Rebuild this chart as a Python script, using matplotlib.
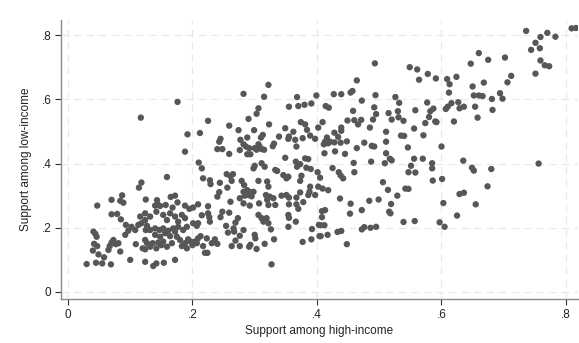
import matplotlib
matplotlib.use("Agg")
import matplotlib.pyplot as plt

# (support among high-income, support among low-income)
points = [
    # upper left / top
    (0.176,0.592),
    (0.282,0.617),(0.322,0.645),(0.315,0.608),(0.306,0.572),(0.303,0.555),(0.355,0.577),(0.368,0.607),(0.370,0.579),(0.380,0.583),(0.391,0.587),(0.399,0.612),
    (0.414,0.579),(0.419,0.574),(0.427,0.616),(0.439,0.616),(0.454,0.621),(0.457,0.626),(0.464,0.659),(0.472,0.596),(0.458,0.564),(0.493,0.712),(0.494,0.613),(0.492,0.575),(0.495,0.554),(0.515,0.557),(0.526,0.607),(0.532,0.589),(0.530,0.563),(0.549,0.700),(0.561,0.693),(0.564,0.661),(0.578,0.679),(0.591,0.665),(0.609,0.663),(0.613,0.647),(0.612,0.621),(0.577,0.590),(0.558,0.566),(0.582,0.563),(0.587,0.571),(0.607,0.570),(0.610,0.577),
    (0.736,0.813),(0.809,0.821),(0.816,0.822),(0.759,0.794),(0.770,0.807),(0.783,0.795),(0.751,0.776),(0.744,0.754),(0.758,0.759),(0.660,0.744),(0.647,0.711),(0.675,0.723),(0.702,0.730),(0.759,0.721),(0.766,0.706),(0.773,0.703),(0.751,0.680),(0.624,0.670),(0.650,0.640),(0.668,0.652),(0.712,0.673),(0.706,0.653),(0.652,0.612),(0.660,0.612),(0.666,0.610),(0.694,0.619),(0.698,0.602),(0.681,0.601),(0.616,0.588),(0.627,0.591),(0.629,0.572),(0.636,0.577),(0.654,0.577),(0.682,0.567),
    (0.620,0.531),(0.658,0.543),(0.635,0.409),(0.649,0.387),(0.652,0.378),(0.680,0.383),(0.756,0.400),(0.674,0.329),(0.629,0.305),(0.636,0.309),(0.655,0.273),
    (0.625,0.238),
    # middle right
    (0.409,0.529),(0.449,0.534),(0.460,0.535),(0.471,0.536),(0.466,0.522),(0.490,0.537),(0.520,0.537),(0.531,0.544),(0.539,0.533),(0.580,0.545),(0.590,0.531),(0.592,0.529),(0.574,0.526),(0.556,0.509),(0.485,0.512),(0.439,0.512),(0.439,0.502),(0.428,0.496),(0.434,0.483),(0.416,0.481),(0.413,0.468),(0.418,0.463),(0.411,0.460),(0.421,0.468),(0.428,0.466),(0.438,0.465),(0.448,0.469),(0.511,0.499),(0.511,0.468),(0.535,0.487),(0.540,0.486),(0.571,0.488),(0.476,0.465),(0.488,0.455),(0.492,0.453),(0.464,0.448),(0.546,0.450),(0.600,0.453),(0.412,0.432),(0.429,0.438),(0.445,0.430),(0.511,0.432),(0.517,0.415),(0.520,0.410),(0.487,0.406),(0.459,0.402),(0.509,0.401),(0.556,0.415),(0.570,0.415),(0.585,0.401),(0.585,0.385),(0.551,0.393),(0.547,0.373),(0.558,0.372),(0.425,0.386),(0.460,0.373),(0.435,0.373),(0.438,0.363),(0.442,0.354),(0.586,0.347),(0.601,0.352),(0.506,0.342),(0.409,0.322),(0.418,0.317),(0.514,0.318),(0.542,0.322),(0.547,0.321),(0.529,0.300),(0.437,0.291),(0.454,0.275),(0.484,0.284),(0.499,0.288),(0.519,0.274),(0.603,0.277),
    (0.408,0.252),(0.413,0.255),(0.408,0.233),(0.406,0.208),(0.412,0.208),(0.406,0.174),(0.417,0.178),(0.433,0.187),(0.439,0.190),(0.448,0.149),(0.453,0.244),(0.472,0.255),(0.516,0.250),(0.518,0.245),(0.472,0.195),(0.476,0.202),(0.486,0.200),(0.495,0.203),(0.539,0.218),(0.557,0.221),(0.597,0.217),(0.605,0.203),
    # lower left
    (0.070,0.242),(0.079,0.243),(0.085,0.226),(0.093,0.209),(0.041,0.188),(0.044,0.181),(0.046,0.172),(0.042,0.150),(0.047,0.143),(0.040,0.129),(0.049,0.117),(0.058,0.108),(0.030,0.087),(0.045,0.091),(0.055,0.089),(0.069,0.086),(0.065,0.131),(0.067,0.143),(0.070,0.154),(0.073,0.162),(0.077,0.149),(0.081,0.152),(0.084,0.126),(0.092,0.178),(0.097,0.191),(0.102,0.203),(0.100,0.100),(0.109,0.149),(0.108,0.193),(0.113,0.209),(0.118,0.214),(0.124,0.224),(0.127,0.206),(0.125,0.193),(0.124,0.162),(0.127,0.152),(0.120,0.136),(0.124,0.133),(0.124,0.094),(0.137,0.081),(0.142,0.089),(0.154,0.091),(0.172,0.100),(0.132,0.141),(0.136,0.152),(0.142,0.136),(0.145,0.154),(0.150,0.146),(0.140,0.178),(0.148,0.172),(0.156,0.183),(0.164,0.174),(0.172,0.188),(0.132,0.193),(0.140,0.198),(0.147,0.193),(0.153,0.198),(0.161,0.191),(0.169,0.198),(0.177,0.203),(0.185,0.193),(0.191,0.203),(0.116,0.235),(0.124,0.245),(0.132,0.235),(0.142,0.250),(0.153,0.240),(0.159,0.224),(0.164,0.245),(0.172,0.235),(0.177,0.219),(0.183,0.240),(0.188,0.230),(0.175,0.172),(0.180,0.162),(0.188,0.152),(0.193,0.164),(0.183,0.143),(0.191,0.136),(0.153,0.157),(0.159,0.141),(0.167,0.152),
    (0.117,0.543),(0.192,0.491),(0.188,0.437),(0.159,0.358),(0.118,0.341),(0.114,0.325),(0.087,0.301),(0.084,0.284),(0.089,0.278),(0.070,0.287),(0.047,0.269),(0.125,0.288),(0.143,0.286),(0.145,0.271),(0.140,0.269),(0.148,0.268),(0.165,0.296),(0.172,0.300),(0.176,0.279),(0.157,0.271),(0.168,0.263),(0.188,0.269),(0.195,0.259),
    (0.215,0.239),(0.225,0.245),(0.227,0.233),(0.228,0.219),(0.245,0.233),(0.248,0.250),(0.259,0.247),(0.273,0.230),(0.269,0.216),(0.254,0.206),(0.266,0.198),(0.267,0.188),(0.257,0.185),(0.282,0.193),(0.276,0.175),(0.269,0.160),(0.263,0.143),(0.276,0.143),(0.291,0.141),(0.293,0.147),(0.300,0.178),(0.301,0.167),(0.303,0.134),(0.316,0.150),(0.331,0.164),(0.306,0.240),(0.311,0.230),(0.314,0.219),(0.319,0.230),(0.322,0.214),(0.326,0.195),(0.327,0.086),(0.354,0.240),(0.355,0.231),(0.366,0.219),(0.354,0.203),(0.377,0.156),(0.392,0.196),(0.391,0.164),(0.403,0.209),(0.404,0.174),(0.197,0.157),(0.200,0.146),(0.204,0.157),(0.209,0.167),(0.213,0.174),(0.207,0.152),(0.217,0.143),(0.220,0.122),(0.224,0.122),(0.223,0.167),(0.231,0.152),(0.236,0.164),(0.240,0.150),(0.201,0.214),(0.207,0.206),(0.209,0.214),
    # middle
    (0.225,0.533),(0.212,0.495),(0.290,0.539),(0.259,0.518),(0.274,0.504),(0.299,0.504),(0.323,0.522),(0.245,0.477),(0.243,0.468),(0.240,0.445),(0.248,0.445),(0.259,0.430),(0.277,0.474),(0.288,0.481),(0.282,0.460),(0.286,0.453),(0.291,0.448),(0.276,0.442),(0.288,0.429),(0.293,0.429),(0.300,0.448),(0.306,0.460),(0.308,0.452),(0.311,0.445),(0.315,0.443),(0.303,0.443),(0.310,0.481),(0.313,0.489),(0.329,0.454),(0.331,0.462),(0.339,0.484),(0.349,0.510),(0.354,0.477),(0.355,0.484),(0.362,0.499),(0.365,0.474),(0.367,0.453),(0.374,0.529),(0.381,0.522),(0.384,0.505),(0.389,0.487),(0.397,0.477),(0.402,0.512),(0.377,0.479),(0.210,0.403),(0.215,0.385),(0.217,0.354),(0.228,0.348),(0.229,0.336),(0.244,0.340),(0.240,0.297),(0.243,0.311),(0.255,0.367),(0.261,0.361),(0.265,0.367),(0.263,0.346),(0.256,0.325),(0.261,0.281),(0.279,0.346),(0.283,0.333),(0.282,0.312),(0.288,0.317),(0.293,0.311),(0.290,0.302),(0.284,0.300),(0.298,0.312),(0.295,0.298),(0.298,0.385),(0.300,0.393),(0.311,0.401),(0.316,0.390),(0.306,0.346),(0.320,0.344),(0.322,0.328),(0.276,0.292),(0.282,0.276),(0.292,0.269),(0.307,0.276),(0.318,0.302),(0.320,0.287),(0.324,0.297),(0.322,0.271),(0.333,0.380),(0.336,0.377),(0.346,0.364),(0.351,0.354),(0.354,0.359),(0.349,0.418),(0.366,0.406),(0.368,0.390),(0.373,0.398),(0.381,0.416),(0.386,0.414),(0.383,0.387),(0.390,0.383),(0.375,0.362),(0.373,0.346),(0.389,0.328),(0.388,0.312),(0.373,0.310),(0.367,0.294),(0.351,0.302),(0.355,0.294),(0.343,0.300),(0.330,0.292),(0.333,0.271),(0.355,0.273),(0.367,0.273),(0.378,0.280),(0.370,0.259),(0.386,0.302),(0.397,0.302),(0.402,0.328),(0.405,0.356),(0.401,0.373),(0.209,0.273),(0.201,0.263),(0.225,0.267),
]
support_high = [p[0] for p in points]
support_low = [p[1] for p in points]

tick_vals = [0, 0.2, 0.4, 0.6, 0.8]
tick_labels = ["0", ".2", ".4", ".6", ".8"]

plt.rcParams['font.family'] = ['Liberation Sans', 'DejaVu Sans']

fig = plt.figure(figsize=(5.79, 3.43), dpi=100)
ax = fig.add_axes([61/579, (343-299)/343, (578-61)/579, (299-20)/343])
ax.scatter(support_high, support_low, s=21, color='#575757', edgecolors='none', zorder=3)

ax.set_xlim(-0.0112, 0.8193)
ax.set_ylim(-0.0218, 0.847)
ax.set_xticks(tick_vals)
ax.set_xticklabels(tick_labels)
ax.set_yticks(tick_vals)
ax.set_yticklabels(tick_labels)
ax.grid(True, color='#e8e8e8', linestyle=(0, (6, 4)), linewidth=0.9, zorder=0)
for side in ['top', 'right']:
    ax.spines[side].set_visible(False)
for side in ['left', 'bottom']:
    ax.spines[side].set_color('#8a8a8a')
    ax.spines[side].set_linewidth(1.0)
ax.tick_params(axis='both', colors='#333333', labelsize=8.5, length=4, width=0.8, labelcolor='#222222')
ax.tick_params(axis='x', pad=3)
ax.tick_params(axis='y', pad=3)
ax.set_xlabel("Support among high-income", fontsize=8.5, color='#222222', labelpad=3)
ax.set_ylabel("Support among low-income", fontsize=8.5, color='#222222', labelpad=7)

fig.savefig("out.png", dpi=100)
